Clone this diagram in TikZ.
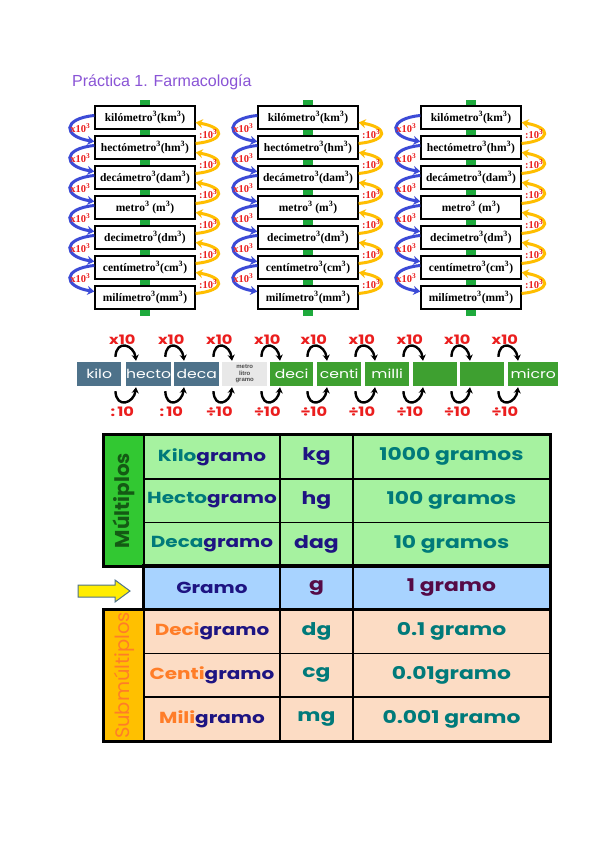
\documentclass[tikz,border=0pt]{standalone}
\usepackage{fontspec}
\setmainfont{Liberation Serif}
\newfontfamily\arial{Liberation Sans}
\newfontfamily\gothic[FakeStretch=1.25]{Poppins}
\newfontfamily\gothicn{Poppins}
\usetikzlibrary{arrows.meta}

\definecolor{violeta}{RGB}{138,84,214}
\definecolor{verdebarra}{RGB}{30,170,60}
\definecolor{azulflecha}{RGB}{60,75,215}
\definecolor{amarilloflecha}{RGB}{255,190,0}
\definecolor{rojo}{RGB}{235,30,30}
\definecolor{grisazul}{RGB}{78,114,138}
\definecolor{grisclaro}{RGB}{232,232,232}
\definecolor{verdeprefijo}{RGB}{62,160,48}
\definecolor{verdefuerte}{RGB}{50,200,50}
\definecolor{verdeoscuro}{RGB}{20,90,20}
\definecolor{verdeclaro}{RGB}{166,242,160}
\definecolor{azulclaro}{RGB}{168,211,255}
\definecolor{salmon}{RGB}{252,220,196}
\definecolor{oro}{RGB}{255,192,0}
\definecolor{naranja}{RGB}{255,125,40}
\definecolor{turquesa}{RGB}{0,122,122}
\definecolor{marino}{RGB}{30,20,130}
\definecolor{ciruela}{RGB}{85,10,70}

\tikzset{
  unidad/.style={draw, line width=1.3pt, fill=white, minimum width=100pt,
    minimum height=23pt, inner sep=0pt, font=\bfseries\fontsize{11.5}{12}\selectfont},
  flechaazul/.style={azulflecha, line width=3pt, -{Stealth[length=7pt,width=9pt]}},
  flechaamarilla/.style={amarilloflecha, line width=3pt, -{Stealth[length=7pt,width=9pt]}},
  etiqpot/.style={text=rojo, inner sep=0pt, font=\bfseries\fontsize{10.5}{10}\selectfont},
  prefijo/.style={anchor=west, minimum height=24pt, inner sep=0pt, text=white,
    font=\gothic\fontsize{12.5}{12}\selectfont},
  flechanegra/.style={black, line width=2.4pt, -{Stealth[length=6pt,width=7pt]}},
  etiqroja/.style={text=rojo, inner sep=0pt, font=\gothic\bfseries\fontsize{13}{13}\selectfont},
  celda/.style={draw, line width=1.6pt, inner sep=0pt, minimum height=43.71pt,
    font=\gothic\bfseries\fontsize{17.5}{20}\selectfont},
  nombre/.style={celda, minimum width=136pt, font=\gothic\bfseries\fontsize{16}{20}\selectfont},
  cabecera/.style={draw, line width=1.6pt, inner sep=0pt, rotate=90,
    font=\gothicn\bfseries\fontsize{20}{22}\selectfont},
}

\begin{document}
\begin{tikzpicture}[x=1pt, y=-1pt]

  % --- fondo y marco ---
  \path[fill=white, use as bounding box] (0,0) rectangle (600,848);

  % --- título ---
  \node[anchor=base west, inner sep=0pt, text=violeta,
    font=\arial\fontsize{16}{16}\selectfont] (titulo) at (72,87) {Práctica 1. Farmacología};

  % --- PRIMER BLOQUE : UNIDADES DE VOLUMEN ---
  \foreach \col/\cx in {a/145, b/308, c/471}{
    \begin{scope}[shift={(\cx,0)}]
      \fill[verdebarra] (-5,100) rectangle (5,316); % barra verde

      % Cajas
      \foreach \txt [count=\i] in {kilómetro\textsuperscript{3}(km\textsuperscript{3}),
          hectómetro\textsuperscript{3}(hm\textsuperscript{3}),
          decámetro\textsuperscript{3}(dam\textsuperscript{3}),
          metro\textsuperscript{3} (m\textsuperscript{3}),
          decimetro\textsuperscript{3}(dm\textsuperscript{3}),
          centímetro\textsuperscript{3}(cm\textsuperscript{3}),
          milímetro\textsuperscript{3}(mm\textsuperscript{3})}
        \node[unidad] (\col\i) at (0,{87.5+30*\i}) {\txt};

      % Flechas x10^3 (izquierda) y :10^3 (derecha)
      \foreach \i in {1,...,6}{
        \pgfmathtruncatemacro{\j}{\i+1}
        \draw[flechaazul] ([yshift=2pt]\col\i.west) .. controls +(-32,3) and +(-32,-5) ..
          ([yshift=6pt]\col\j.west) node[etiqpot, pos=0.5, xshift=10pt] {x10\textsuperscript{3}};
        \draw[flechaamarilla] ([yshift=4pt]\col\j.east) .. controls +(30,-3) and +(30,5) ..
          ([yshift=-5pt]\col\i.east) node[etiqpot, pos=0.5, xshift=-10pt] {:10\textsuperscript{3}};
      }
    \end{scope}
  }

  % --- SEGUNDO BLOQUE : PREFIJOS ---
  \foreach \txt/\x/\w/\fondo [count=\i] in {kilo/77/44/grisazul, hecto/126/44/grisazul,
      deca/174/45/grisazul, {}/222/45/grisclaro, deci/270/43/verdeprefijo,
      centi/317/44/verdeprefijo, milli/365/44/verdeprefijo, {}/413/44/verdeprefijo,
      {}/460/44/verdeprefijo, micro/508/50/verdeprefijo}
    \node[prefijo, fill=\fondo, minimum width=\w pt] (p\i) at (\x,374) {\txt};
  \node[align=center, inner sep=0pt, text=black!70,
    font=\arial\bfseries\fontsize{6}{6.5}\selectfont] (mlg) at (p4) {metro\\litro\\gramo};

  % Flechas x10 (arriba) y :10 (abajo)
  \foreach \i in {1,...,9}{
    \pgfmathtruncatemacro{\j}{\i+1}
    \draw[flechanegra] ([xshift=-6pt,yshift=5pt]p\i.north east) .. controls +(1,-18) and +(-2,-16) ..
      ([xshift=10pt,yshift=1pt]p\j.north west) node[etiqroja, pos=0.5, xshift=-3pt, yshift=6pt] {x10};
    \draw[flechanegra] ([xshift=-6pt,yshift=-5pt]p\i.south east) .. controls +(1,18) and +(-2,16) ..
      ([xshift=10pt,yshift=-1pt]p\j.south west)
      node[etiqroja, pos=0.5, xshift=-3pt, yshift=-10pt] {\ifnum\i<3 :\,10\else ÷10\fi};
  }

  % --- TERCER BLOQUE : TABLA DEL GRAMO ---
  % Múltiplos
  \node[cabecera, fill=verdefuerte, text=verdeoscuro, minimum width=131.13pt,
    minimum height=40pt] (mult) at (124,500.56) {Múltiplos};
  \foreach \pref/\simb/\val [count=\i] in {Kilo/kg/1000 gramos, Hecto/hg/100 gramos,
      Deca/dag/10 gramos}{
    \pgfmathsetmacro{\yc}{435+43.71*(\i-0.5)}
    \node[nombre, fill=verdeclaro] (nm\i) at (212,\yc)
      {\textcolor{turquesa}{\pref}\textcolor{marino}{gramo}};
    \node[celda, fill=verdeclaro, minimum width=73pt, text=marino] (sm\i) at (316.5,\yc) {\simb};
    \node[celda, fill=verdeclaro, minimum width=197pt, text=turquesa] (vm\i) at (451.5,\yc) {\val};
  }

  % Unidad
  \node[nombre, fill=azulclaro, text=marino] (ng) at (212,587.49) {Gramo};
  \node[celda, fill=azulclaro, minimum width=73pt, text=ciruela] (sg) at (316.5,587.49) {g};
  \node[celda, fill=azulclaro, minimum width=197pt, text=ciruela] (vg) at (451.5,587.49) {1 gramo};
  \draw[fill=yellow!95!orange, draw=grisazul, line width=1pt]
    (78,585) -- (115,585) -- (115,580) -- (130,591) -- (115,602) -- (115,597) -- (78,597) -- cycle;

  % Submúltiplos
  \node[cabecera, fill=oro, text=naranja, minimum width=131.13pt,
    minimum height=40pt, font=\gothicn\fontsize{19.5}{22}\selectfont] (submult) at (124,675.42) {Submúltiplos};
  \foreach \pref/\simb/\val [count=\i] in {Deci/dg/0.1 gramo, Centi/cg/0.01gramo,
      Mili/mg/0.001 gramo}{
    \pgfmathsetmacro{\yc}{609.84+43.71*(\i-0.5)}
    \node[nombre, fill=salmon] (ns\i) at (212,\yc)
      {\textcolor{naranja}{\pref}\textcolor{marino}{gramo}};
    \node[celda, fill=salmon, minimum width=73pt, text=turquesa] (ss\i) at (316.5,\yc) {\simb};
    \node[celda, fill=salmon, minimum width=197pt, text=turquesa] (vs\i) at (451.5,\yc) {\val};
  }

  % Bordes gruesos (nodos girados: north east = esquina superior izquierda)
  \draw[line width=2.6pt] (mult.north east) rectangle (vm3.south east);
  \draw[line width=2.6pt] (ng.north west) rectangle (vg.south east);
  \draw[line width=2.6pt] (submult.north east) rectangle (vs3.south east);

\end{tikzpicture}
\end{document}
